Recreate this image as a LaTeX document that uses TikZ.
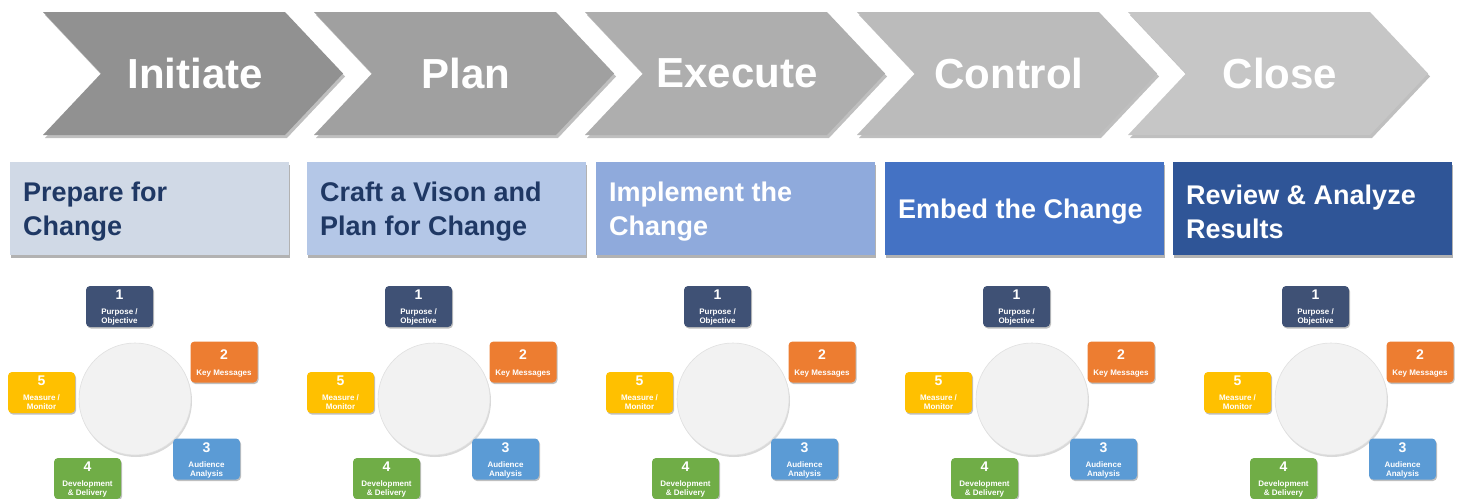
\documentclass[tikz,border=0pt]{standalone}
\usepackage{fontspec}
\setmainfont{Liberation Sans}
\usetikzlibrary{shadows}

% phase chevrons
\definecolor{chA}{HTML}{919191}
\definecolor{chB}{HTML}{A0A0A0}
\definecolor{chC}{HTML}{AEAEAE}
\definecolor{chD}{HTML}{BBBBBB}
\definecolor{chE}{HTML}{C6C6C6}
% stage boxes
\definecolor{stA}{HTML}{D0D9E6}
\definecolor{stB}{HTML}{B4C7E7}
\definecolor{stC}{HTML}{8FAADC}
\definecolor{stD}{HTML}{4472C4}
\definecolor{stE}{HTML}{2F5597}
\definecolor{navy}{HTML}{1F3864}
% cycle steps
\definecolor{sNavy}{HTML}{3F5175}
\definecolor{sOrange}{HTML}{ED7D31}
\definecolor{sBlue}{HTML}{5B9BD5}
\definecolor{sGreen}{HTML}{70AD47}
\definecolor{sYellow}{HTML}{FFC000}
\definecolor{hub}{HTML}{F2F2F2}

\tikzset{
  chevshadow/.style={drop shadow={shadow xshift=2pt, shadow yshift=-3pt, opacity=0.25, fill=black}},
  chevtext/.style={text=white, font=\fontsize{42}{46}\selectfont\bfseries, inner sep=0pt},
  stagebox/.style={anchor=north west, minimum width=279pt, minimum height=93pt, inner sep=0pt,
    drop shadow={shadow xshift=1pt, shadow yshift=-3pt, opacity=0.3, fill=black}},
  stagetext/.style={anchor=west, inner sep=0pt, align=left,
    font=\fontsize{27}{34}\selectfont\bfseries},
  sbox/.style={rounded corners=4pt, minimum width=67pt, minimum height=41pt, inner sep=0pt,
    drop shadow={shadow xshift=1pt, shadow yshift=-1.5pt, opacity=0.25, fill=black}},
  snum/.style={text=white, font=\fontsize{14}{14}\selectfont\bfseries, inner sep=0pt},
  slbl/.style={text=white, font=\fontsize{8}{9}\selectfont\bfseries, align=center, inner sep=0pt},
  hubcircle/.style={circle, minimum size=112pt, inner sep=0pt, fill=hub, draw=black!12, line width=0.6pt,
    drop shadow={shadow xshift=1pt, shadow yshift=-2pt, opacity=0.15, fill=black}},
}

\begin{document}
\begin{tikzpicture}[x=1pt,y=-1pt]
\useasboundingbox (0,0) rectangle (1459,498);
\clip (0,0) rectangle (1459,498);
\fill[white] (0,0) rectangle (1459,498);

% ---- phase chevrons ----
\foreach \L/\col/\txt [count=\n] in {43/chA/Initiate, 314/chB/Plan, 585/chC/Execute, 857/chD/Control, 1128/chE/Close}{
  \path[fill=\col, chevshadow]
    (\L,12) -- ({\L+242},12) -- ({\L+300},73.5) -- ({\L+242},135) -- (\L,135) -- ({\L+58},73.5) -- cycle;
  \node[chevtext] (phase\n) at ({\L+152},73) {\txt};
}

% ---- stage boxes ----
\foreach \X/\col/\tcol/\txt [count=\n] in {
    10/stA/navy/{Prepare for\\Change},
    307/stB/navy/{Craft a Vison and\\Plan for Change},
    596/stC/white/{Implement the\\Change},
    885/stD/white/{Embed the Change},
    1173/stE/white/{Review \& Analyze\\Results}}{
  \node[stagebox, fill=\col] (stage\n) at (\X,162) {};
  \node[stagetext, text=\tcol] (stagetxt\n) at ([xshift=13pt, yshift=-3pt]stage\n.west) {\txt};
}

% ---- communication cycles ----
\foreach \dx [count=\n] in {0,299,598,897,1196}{
  \begin{scope}[shift={(\dx,0)}]
    \node[hubcircle] (hub\n) at (135,399) {};
    % 1 purpose
    \node[sbox, fill=sNavy] (s1-\n) at (119.5,306.5) {};
    \node[snum] (n1-\n) at ([yshift=11.5pt]s1-\n.center) {1};
    \node[slbl] (l1-\n) at ([yshift=-10pt]s1-\n.center) {Purpose /\\Objective};
    % 2 key messages
    \node[sbox, fill=sOrange] (s2-\n) at (224,362) {};
    \node[snum] (n2-\n) at ([yshift=7pt]s2-\n.center) {2};
    \node[slbl] (l2-\n) at ([yshift=-11.5pt]s2-\n.center) {Key Messages};
    % 3 audience
    \node[sbox, fill=sBlue] (s3-\n) at (206.5,459) {};
    \node[snum] (n3-\n) at ([yshift=11.5pt]s3-\n.center) {3};
    \node[slbl] (l3-\n) at ([yshift=-10.5pt]s3-\n.center) {Audience\\Analysis};
    % 4 development
    \node[sbox, fill=sGreen] (s4-\n) at (87.5,478.5) {};
    \node[snum] (n4-\n) at ([yshift=12pt]s4-\n.center) {4};
    \node[slbl] (l4-\n) at ([yshift=-10pt]s4-\n.center) {Development\\\& Delivery};
    % 5 measure
    \node[sbox, fill=sYellow] (s5-\n) at (41.5,392.5) {};
    \node[snum] (n5-\n) at ([yshift=12pt]s5-\n.center) {5};
    \node[slbl] (l5-\n) at ([yshift=-10pt]s5-\n.center) {Measure /\\Monitor};
  \end{scope}
}
\end{tikzpicture}
\end{document}
